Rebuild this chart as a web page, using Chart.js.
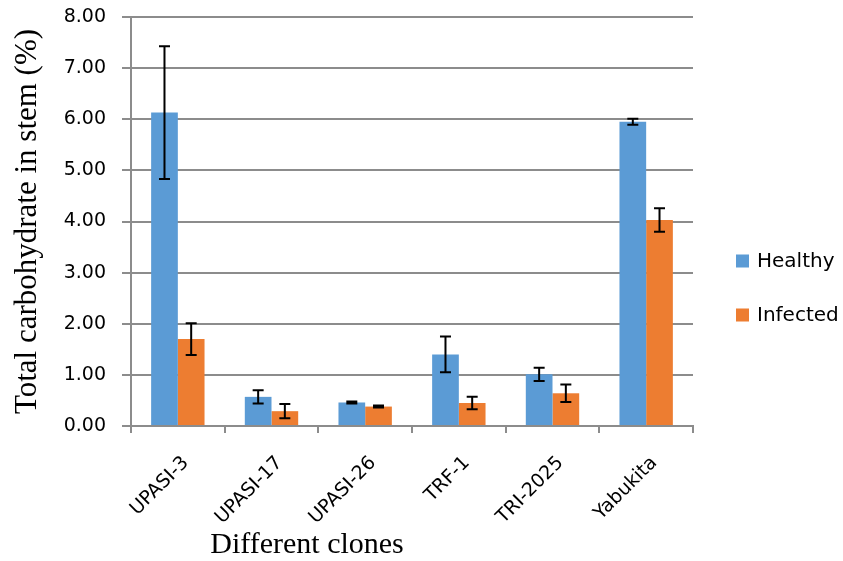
<!DOCTYPE html>
<html><head><meta charset="utf-8">
<script src="https://cdn.jsdelivr.net/npm/chart.js@4"></script>
<style>html,body{margin:0;padding:0;background:#fff}#wrap{width:843px;height:561px}</style>
</head><body><div id="wrap"><canvas id="c" width="843" height="561"></canvas></div>
<script>
const categories = ["UPASI-3","UPASI-17","UPASI-26","TRF-1","TRI-2025","Yabukita"];
const healthy = [6.13, 0.57, 0.46, 1.40, 1.01, 5.95];
const healthyErr = [1.30, 0.13, 0.02, 0.35, 0.13, 0.06];
const infected = [1.70, 0.29, 0.38, 0.45, 0.64, 4.03];
const infectedErr = [0.31, 0.14, 0.02, 0.12, 0.17, 0.23];
const yTicks = [0,1,2,3,4,5,6,7,8];
const xTitle = 'Different clones';
const yTitle = 'Total carbohydrate in stem (%)';

const SANS = 'DejaVu Sans';

const errorBars = {
  id:'errorBars',
  afterDatasetsDraw(chart){
    const ctx = chart.ctx, ys = chart.scales.y;
    chart.data.datasets.forEach((ds,i)=>{
      const meta = chart.getDatasetMeta(i);
      meta.data.forEach((bar,j)=>{
        const v = ds.data[j], e = ds.errors[j];
        const yt = ys.getPixelForValue(v+e), yb = ys.getPixelForValue(v-e);
        ctx.save();
        ctx.strokeStyle='#000'; ctx.lineWidth=2;
        ctx.beginPath();
        ctx.moveTo(bar.x, yt); ctx.lineTo(bar.x, yb);
        ctx.moveTo(bar.x-5.5, yt); ctx.lineTo(bar.x+5.5, yt);
        ctx.moveTo(bar.x-5.5, yb); ctx.lineTo(bar.x+5.5, yb);
        ctx.stroke();
        ctx.restore();
      });
    });
  }
};

const sideLegend = {
  id:'sideLegend',
  afterDraw(chart){
    const ctx = chart.ctx;
    const x0 = chart.chartArea.right + 43;
    const ys = [261, 315];
    ctx.save();
    ctx.font = '20px "' + SANS + '"';
    ctx.textBaseline = 'middle';
    chart.data.datasets.forEach((ds,i)=>{
      const y = ys[i];
      ctx.fillStyle = ds.backgroundColor;
      ctx.fillRect(x0, y-6.5, 13, 13);
      ctx.fillStyle = '#000';
      ctx.fillText(ds.label, x0+21, y+1);
    });
    ctx.restore();
  }
};

const xTitlePlugin = {
  id:'xTitlePlugin',
  afterDraw(chart){
    const ctx = chart.ctx;
    ctx.save();
    ctx.font = '30px "Liberation Serif"';
    ctx.fillStyle = '#000';
    ctx.textAlign = 'center';
    ctx.textBaseline = 'alphabetic';
    ctx.fillText(xTitle, 307, 553);
    ctx.restore();
  }
};

new Chart(document.getElementById('c'), {
  type:'bar',
  data:{
    labels:categories,
    datasets:[
      {label:'Healthy', data:healthy, errors:healthyErr, backgroundColor:'#5B9BD5'},
      {label:'Infected', data:infected, errors:infectedErr, backgroundColor:'#ED7D31'}
    ]
  },
  options:{
    responsive:false, animation:false,
    layout:{padding:{top:17,left:0,right:150,bottom:0}},
    datasets:{bar:{categoryPercentage:0.57, barPercentage:1.0}},
    plugins:{
      tooltip:{enabled:false},
      legend:{display:false}
    },
    scales:{
      x:{
        grid:{drawOnChartArea:false, drawTicks:true, tickLength:7, color:'#8c8c8c', lineWidth:2},
        border:{color:'#8c8c8c', width:2},
        ticks:{minRotation:45, maxRotation:45, color:'#000', padding:19, labelOffset:8,
          font:{family:SANS, size:19}},
        afterFit(s){ s.height = 135; s.paddingTop = 0; s.paddingLeft = 0; s.paddingRight = 0; }
      },
      y:{
        min:0, max:8,
        afterBuildTicks(s){ s.ticks = yTicks.map(v=>({value:v})); },
        grid:{color:'#8c8c8c', lineWidth:2, tickLength:9},
        border:{color:'#8c8c8c', width:2},
        ticks:{color:'#000', padding:16, font:{family:SANS, size:19},
          callback:v=>Number(v).toFixed(2)},
        title:{display:true, text:yTitle, color:'#000', padding:{top:9,bottom:0},
          font:{family:'Liberation Serif', size:31}},
        afterFit(s){ s.width = 131; s.paddingTop = 0; s.paddingBottom = 0; }
      }
    }
  },
  plugins:[errorBars, sideLegend, xTitlePlugin]
});
</script></body></html>
